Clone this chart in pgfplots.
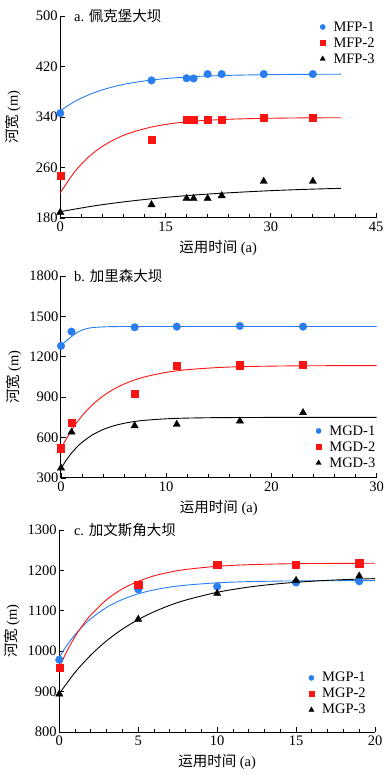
\documentclass[border=0pt]{standalone}
\usepackage{pgfplots}
\pgfplotsset{compat=1.18}
\usepackage{fontspec}
\setmainfont{Liberation Serif}
\newfontfamily\cjk{Noto Sans CJK SC}
\definecolor{mblue}{RGB}{40,125,240}
\definecolor{mred}{RGB}{250,20,20}
\newcommand\fs{\fontsize{14.5}{16}\selectfont}
\pgfplotsset{
  panel/.style={
    scale only axis, width=315.7pt, height=202pt, anchor=south west,
    axis x line=bottom, axis y line=left,
    axis line style={-, line width=1pt},
    every tick/.style={black, line width=0.8pt},
    tick align=inside, major tick length=5pt, minor tick length=3.5pt,
    minor x tick num=4,
    clip=false,
    tick label style={font=\fs},
    /pgf/number format/assume math mode=true,
    /pgf/number format/1000 sep={},
    yticklabel style={inner sep=2.5pt},
    label style={font=\fs},
    xlabel={{\cjk 运用时间} (a)},
    ylabel={{\cjk 河宽} (m)},
    xlabel style={at={(axis description cs:0.5,-0.15)}, anchor=center},
    ylabel style={at={(axis description cs:-0.15,0.5)}, anchor=center},
    legend style={font=\fs, draw=none, fill=none, inner sep=0pt,
      nodes={inner sep=1.2pt}, row sep=2.5pt,
      /tikz/every odd column/.append style={column sep=7pt}},
    legend cell align=left,
  },
  curve/.style={line width=0.9pt, smooth, forget plot},
  mk1/.style={only marks, mark=*, mark size=3.8pt, color=mblue,
    legend image post style={mark size=2.6pt}},
  mk2/.style={only marks, mark=square*, mark size=3.6pt, color=mred,
    legend image post style={mark size=2.6pt}},
  mk3/.style={only marks, mark=triangle*, mark size=4.2pt, color=black,
    legend image post style={mark size=3pt}},
}
\begin{document}
\begin{tikzpicture}
\useasboundingbox (0,0) rectangle (383pt,776pt);
% ---------------- panel a
\begin{axis}[panel, at={(60.3pt,558pt)},
  xmin=0, xmax=45, ymin=180, ymax=500,
  xtick={0,15,30,45}, ytick={180,260,340,420,500},
  legend style={at={(rel axis cs:1.0,0.98)}, anchor=north east}]
\addplot[curve, mblue] coordinates {(0,350) (2,364.2) (4,374.9) (6,383.0) (8,389.1) (10,393.7) (13,398.6) (16,401.8) (20,404.5) (25,406.2) (30,407.1) (35,407.6) (40,407.8)};
\addplot[curve, mred] coordinates {(0,220) (2,252.6) (4,276.3) (6,293.4) (8,305.9) (10,315.0) (13,324.1) (16,329.8) (20,334.1) (25,336.8) (30,338.0) (35,338.6) (40,338.8)};
\addplot[curve, black] coordinates {(0,190) (5,199.5) (10,206.8) (15,212.6) (20,217.1) (25,220.5) (30,223.3) (35,225.4) (40,227.0)};
\addplot[mk1] coordinates {(0,346) (13,398) (18,401.4) (19,401) (21,408) (23,408) (29,408) (36,408)};
\addplot[mk2] coordinates {(0,247.5) (13,303.4) (18,335.5) (19,335.5) (21,335.5) (23,335.5) (29,338.7) (36,338.7)};
\addplot[mk3] coordinates {(0,189) (13,201) (18,211) (19,211) (21,211) (23,215.3) (29,238) (36,238)};
\legend{MFP-1,MFP-2,MFP-3}
\node[anchor=west, font=\fs, inner sep=0pt] at (rel axis cs:0.043,1) {a. {\cjk 佩克堡大坝}};
\end{axis}
% ---------------- panel b
\begin{axis}[panel, at={(61pt,298pt)},
  xmin=0, xmax=30, ymin=300, ymax=1800,
  xtick={0,10,20,30}, ytick={300,600,900,1200,1500,1800},
  legend style={at={(rel axis cs:1.0,0.04)}, anchor=south east}]
\addplot[curve, mblue] coordinates {(0,1285) (0.5,1318) (1,1350) (1.5,1378) (2,1398) (2.5,1410) (3,1417) (4,1422) (5,1424) (8,1425) (30,1425)};
\addplot[curve, mred] coordinates {(0,520) (1,656) (2,762) (3,844.5) (4,908.8) (5,958.8) (6,997.8) (7,1028.1) (8,1051.8) (10,1084.5) (12,1104.4) (15,1120.5) (18,1128.2) (22,1132.5) (26,1134.1) (30,1134.7)};
\addplot[curve, black] coordinates {(0,370) (0.5,432.6) (1,484.8) (1.5,528.5) (2,565) (3,620.8) (4,659.9) (5,687.3) (6,706.2) (7,719.6) (8,728.7) (10,739.6) (12,744.9) (15,748.3) (20,749.7) (30,750)};
\addplot[mk1] coordinates {(0,1281) (1,1387) (7,1419.5) (11,1424) (17,1429) (23,1424)};
\addplot[mk2] coordinates {(0,522) (1,713) (7,925) (11,1133) (17,1138) (23,1143)};
\addplot[mk3] coordinates {(0,374) (1,641) (7,688) (11,698) (17,723) (23,785)};
\legend{MGD-1,MGD-2,MGD-3}
\node[anchor=west, font=\fs, inner sep=0pt] at (rel axis cs:0.041,1) {b. {\cjk 加里森大坝}};
\end{axis}
% ---------------- panel c
\begin{axis}[panel, at={(59.3pt,44pt)},
  xmin=0, xmax=20, ymin=800, ymax=1300,
  xtick={0,5,10,15,20}, ytick={800,900,1000,1100,1200,1300},
  legend style={at={(rel axis cs:0.975,0.075)}, anchor=south east}]
\addplot[curve, mblue] coordinates {(0,985) (0.5,1015.6) (1,1041.1) (1.5,1062.5) (2,1080.6) (3,1108.5) (4,1128.1) (5,1142.0) (6,1151.8) (7,1158.6) (8,1163.4) (10,1169.3) (12,1172.2) (15,1174.0) (20,1174.8)};
\addplot[curve, mred] coordinates {(0,960) (0.5,1001.5) (1,1036.2) (1.5,1065.3) (2,1089.8) (3,1127.7) (4,1154.3) (5,1173.1) (6,1186.5) (7,1195.7) (8,1202.3) (10,1210.2) (12,1214.1) (15,1216.7) (20,1217.8)};
\addplot[curve, black] coordinates {(0,895) (1,947.6) (2,990.6) (3,1025.8) (4,1054.7) (5,1078.3) (6,1097.6) (7,1113.5) (8,1126.4) (10,1145.8) (12,1158.7) (14,1167.4) (16,1173.2) (18,1177.1) (20,1179.7)};
\addplot[mk1] coordinates {(0,979) (5,1153) (10,1160) (15,1170) (19,1173)};
\addplot[mk2] coordinates {(0,960) (5,1164) (10,1213.5) (15,1214) (19,1218)};
\addplot[mk3] coordinates {(0,894) (5,1079) (10,1143) (15,1175) (19,1186)};
\legend{MGP-1,MGP-2,MGP-3}
\node[anchor=west, font=\fs, inner sep=0pt] at (rel axis cs:0.046,1) {c. {\cjk 加文斯角大坝}};
\end{axis}
\end{tikzpicture}
\end{document}
